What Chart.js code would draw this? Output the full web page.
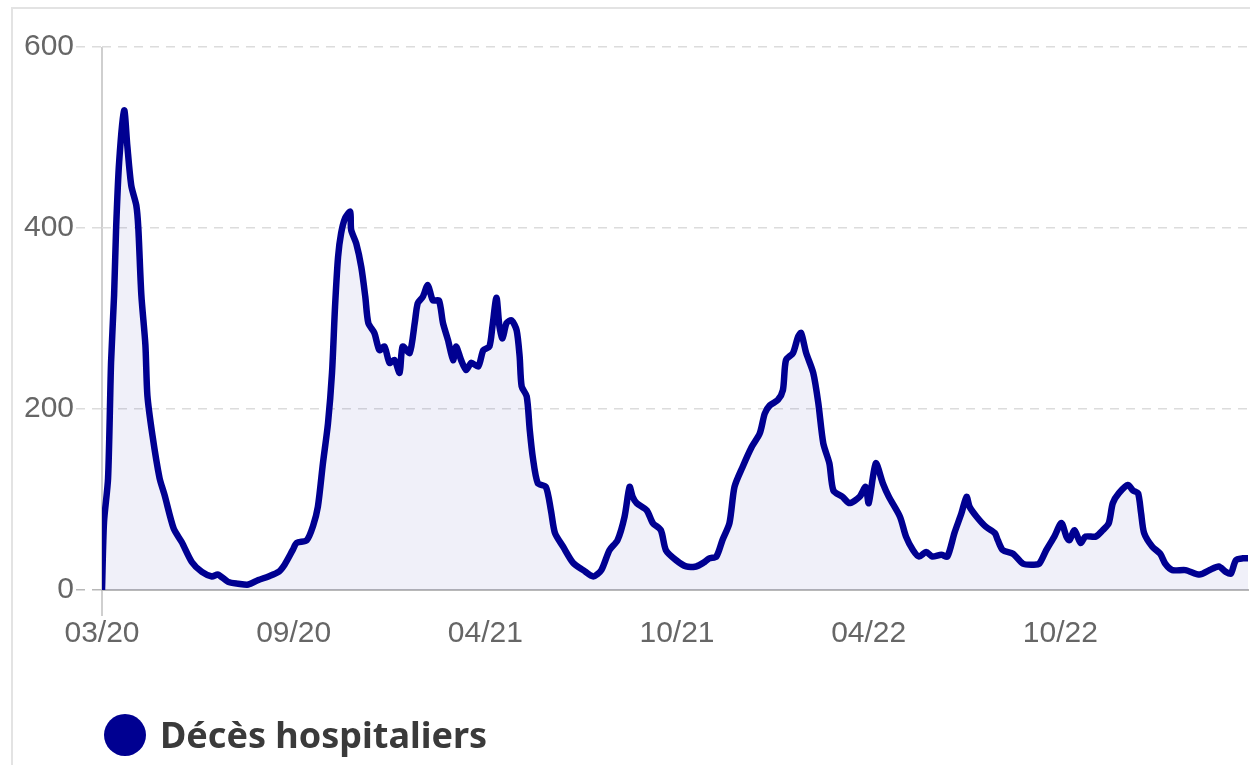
<!DOCTYPE html>
<html lang="fr">
<head>
<meta charset="utf-8">
<title>Décès hospitaliers</title>
<script src="https://cdn.jsdelivr.net/npm/chart.js@4/dist/chart.umd.min.js"></script>
<style>
  html, body { margin: 0; padding: 0; background: #fff; }
  .card {
    position: absolute; left: 11px; top: 7px;
    width: 1300px; height: 800px;
    border: 2px solid #e3e3e3;
  }
  .wrap { position: absolute; left: 0; top: 0; width: 1250px; height: 765px; }
  .legend { position: absolute; left: 104px; top: 714px; height: 42px; display: flex; align-items: center; }
  .legend-item { display: flex; align-items: center; }
  .legend-color { width: 42px; height: 42px; border-radius: 50%; }
  .legend-text {
    margin-left: 14px;
    font-family: "Noto Sans", sans-serif; font-weight: bold; font-size: 36px;
    color: #3a3a3a; line-height: 42px;
  }
</style>
</head>
<body>
<div class="card"></div>
<div class="wrap"><canvas id="deaths-chart" width="1250" height="765"></canvas></div>
<div class="legend" id="deaths-legend"></div>
<script>
// days since 18/03/2020
const days = [
  0, 2, 6, 9, 12, 14, 17, 22, 25, 29,
  34, 36, 39, 43, 45, 50, 57, 62, 71, 79,
  89, 99, 109, 115, 125, 135, 145, 155, 165, 175,
  181, 189, 193, 203, 209, 214, 219, 224, 228, 231,
  234, 237, 241, 246, 247, 252, 257, 261, 264, 270,
  275, 280, 285, 290, 295, 298, 305, 310, 313, 318,
  323, 328, 334, 338, 343, 348, 351, 356, 361, 366,
  373, 378, 384, 387, 391, 394, 397, 401, 406, 411,
  414, 416, 421, 424, 427, 432, 440, 445, 449, 457,
  467, 477, 487, 495, 503, 511, 518, 523, 526, 530,
  540, 546, 554, 559, 569, 579, 589, 596, 602, 609,
  615, 622, 627, 635, 644, 652, 657, 662, 670, 675,
  678, 685, 690, 693, 698, 705, 710, 715, 721, 725,
  734, 741, 751, 757, 760, 767, 774, 780, 791, 797,
  804, 810, 817, 823, 832, 838, 845, 852, 857, 860,
  867, 876, 885, 888, 893, 903, 913, 923, 929, 936,
  944, 951, 956, 959, 964, 970, 975, 985, 992, 998,
  1002, 1008, 1017, 1022, 1027, 1030, 1033, 1041, 1049, 1054,
  1061, 1074, 1088, 1098, 1107, 1114, 1119, 1124, 1131, 1136
];

const deaths = [
  0, 75, 123, 252, 326, 400, 473, 530, 492, 447,
  425, 400, 326, 271, 215, 171, 124, 105, 68, 53,
  31, 20, 15, 17, 9, 7, 6, 11, 15, 20,
  28, 44, 52, 55, 70, 92, 140, 184, 240, 313,
  368, 394, 411, 418, 398, 383, 357, 324, 295, 284,
  265, 269, 251, 254, 240, 269, 262, 295, 317, 324,
  337, 320, 320, 295, 276, 254, 269, 254, 243, 251,
  247, 265, 269, 291, 323, 291, 278, 295, 298, 287,
  258, 225, 214, 177, 147, 118, 114, 88, 63, 48,
  30, 22, 15, 22, 44, 55, 81, 114, 103, 96,
  88, 74, 66, 44, 33, 26, 26, 30, 35, 37,
  55, 74, 114, 136, 158, 173, 195, 204, 210, 221,
  254, 262, 280, 284, 262, 240, 207, 162, 140, 110,
  103, 96, 103, 114, 96, 140, 118, 103, 81, 59,
  44, 37, 42, 37, 39, 37, 63, 85, 103, 92,
  81, 70, 63, 55, 44, 40, 29, 28, 29, 44,
  59, 74, 59, 55, 66, 52, 59, 59, 66, 74,
  96, 107, 116, 110, 107, 85, 63, 48, 40, 29,
  22, 22, 17, 22, 26, 20, 18, 33, 35, 35
];

const tickDays = [0, 190, 380, 570, 760, 950];
const tickLabels = ["03/20", "09/20", "04/21", "10/21", "04/22", "10/22"];

const SERIES_LABEL = "Décès hospitaliers";
const LINE_COLOR = "#000091";
const FILL_COLOR = "rgba(0, 0, 145, 0.06)";
const TICK_FONT = { family: "'Liberation Sans', Arial, sans-serif", size: 30 };

const canvas = document.getElementById("deaths-chart");

new Chart(canvas, {
  type: "line",
  data: {
    datasets: [
      {
        label: SERIES_LABEL,
        data: days.map((d, i) => ({ x: d, y: deaths[i] })),
        borderColor: LINE_COLOR,
        backgroundColor: FILL_COLOR,
        borderWidth: 6.5,
        borderJoinStyle: "round",
        borderCapStyle: "round",
        pointRadius: 0,
        fill: "origin",
        tension: 0.25,
      },
    ],
  },
  options: {
    responsive: false,
    animation: false,
    layout: { padding: { top: 47, left: 10, right: 2, bottom: 115 } },
    scales: {
      x: {
        type: "linear",
        min: 0,
        max: days[days.length - 1],
        afterBuildTicks: (scale) => {
          scale.ticks = tickDays.map((v) => ({ value: v }));
        },
        afterFit: (scale) => {
          scale.height = 60;
        },
        ticks: {
          autoSkip: false,
          maxRotation: 0,
          padding: 0,
          color: "#666",
          font: TICK_FONT,
          callback: (value, index) => tickLabels[index],
        },
        grid: {
          // only the first vertical line is visible
          color: (ctx) => (ctx.tick && ctx.tick.value === 0 ? "#cfcfcf" : "transparent"),
          lineWidth: 2,
          tickLength: 26,
        },
        border: { display: true, color: "#b8b8b8", width: 2 },
      },
      y: {
        min: 0,
        max: 600,
        ticks: {
          stepSize: 200,
          padding: 2,
          color: "#666",
          font: TICK_FONT,
        },
        afterFit: (scale) => {
          scale.width = 92;
        },
        grid: {
          color: (ctx) => (ctx.tick && ctx.tick.value === 0 ? "transparent" : "#dcdcdc"),
          tickColor: (ctx) => (ctx.tick && ctx.tick.value === 0 ? "#b8b8b8" : "#dcdcdc"),
          lineWidth: 1.5,
          tickLength: 26,
          tickBorderDash: [9, 7],
        },
        border: { display: false, dash: [9, 7] },
      },
    },
    plugins: {
      legend: { display: false }, // custom legend below
      tooltip: { enabled: false },
    },
  },
});

// custom legend
document.getElementById("deaths-legend").innerHTML = `
  <div class="legend-item">
    <div class="legend-color" style="background-color: ${LINE_COLOR}"></div>
    <span class="legend-text">${SERIES_LABEL}</span>
  </div>
`;
</script>
</body>
</html>
